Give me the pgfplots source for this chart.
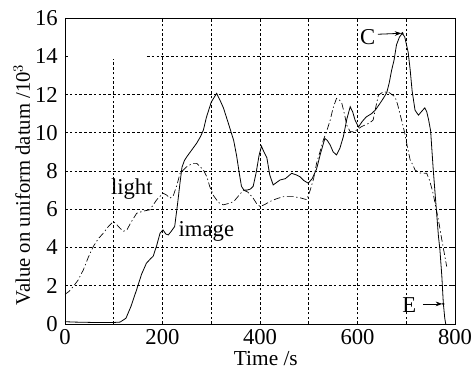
\documentclass[border=0pt]{standalone}
\usepackage{pgfplots}
\pgfplotsset{compat=1.18}
\usepackage{fontspec}
\setmainfont{Liberation Serif}
\usetikzlibrary{calc,arrows.meta}
\pgfplotstableread{
x y
0 0.12
20 0.1
60 0.08
100 0.08
113 0.1
125 0.3
135 0.9
147 1.8
157 2.6
167 3.18
175 3.4
181 3.55
188 4.1
195 4.75
201 4.92
207 4.7
212 4.66
218 4.85
225 5.1
231 6.3
236 7.4
240 8.2
245 8.55
250 8.75
260 9.1
270 9.45
278 9.8
284 10.15
290 10.8
300 11.6
311 12.06
318 11.7
325 11.3
335 10.5
346 9.6
352 8.8
358 7.8
362 7.2
367 7.0
373 7.0
380 7.05
386 7.2
392 7.9
398 8.8
403 9.3
408 9.0
414 8.7
420 7.8
427 7.27
434 7.4
441 7.53
452 7.6
465 7.88
474 7.8
482 7.7
490 7.5
499 7.36
507 7.6
516 8.1
524 8.9
533 9.7
538 9.6
544 9.36
550 9.0
557 8.84
564 9.2
571 9.8
578 10.7
585 11.36
590 11.1
595 10.66
602 10.3
610 10.6
618 10.83
629 11.0
637 11.2
646 11.53
653 11.8
660 12.1
665 12.6
670 13.27
675 13.8
680 14.6
686 15.0
692 15.2
697 15.0
704 14.2
708 13.3
712 12.2
718 11.18
725 10.92
731 11.1
738 11.3
742 11.1
746 10.66
750 10.1
755 8.2
758 7.2
762 5.9
766 4.6
769 3.9
773 2.5
776 1.1
779 0.3
781 0
}\imagedata
\pgfplotstableread{
x y
0 1.55
8 1.7
17 1.96
27 2.3
37.6 2.83
48 3.5
58 4.05
68 4.45
78.6 4.75
89 5.1
99 5.36
106 5.2
113 5.0
120 4.85
127 4.92
135 5.3
147 5.79
160 5.9
174 5.97
188 6.49
201 6.84
208 6.75
215 6.58
222 6.7
230 7.3
236 7.88
250 8.23
262 8.4
270 8.4
276 8.25
284 8.05
291 7.7
297 7.18
305 6.7
315 6.35
325 6.23
335 6.3
346 6.4
356 6.7
366 7.0
375 6.9
386 6.58
393 6.3
400 6.14
410 6.25
420 6.4
434 6.55
448 6.66
468 6.66
482 6.6
496 6.5
503 7.0
510 7.6
516 8.4
523 9.0
530 9.62
537 10.1
544 10.66
550 11.3
557 11.8
562 11.75
568 11.53
573 11.0
578 10.4
585 10.05
592 10.05
598 10.14
607 10.3
615 10.4
624 10.5
632 10.66
638 11.4
643 11.97
653 12.14
665 12.1
677 11.88
682 11.5
687 11.0
692 10.5
697 9.97
702 9.3
708 8.58
714 8.3
718 8.05
728 7.9
742 7.88
748 7.5
755 6.84
760 6.2
766 5.44
773 4.4
778 3.7
783 3.0
}\lightdata
\begin{document}
\begin{tikzpicture}
\begin{axis}[
  name=ax,
  scale only axis,
  width=292.5pt, height=229.5pt,
  xmin=0, xmax=800, ymin=0, ymax=16,
  xtick={0,200,...,800}, ytick={0,2,...,16},
  tick align=inside, major tick length=2pt,
  tick style={black, thin},
  axis line style={black, line width=0.6pt},
  /pgf/number format/assume math mode=true,
  tick label style={font=\fontsize{17}{19}\selectfont},
  xticklabel style={inner sep=0pt, yshift=-4pt},
  yticklabel style={inner sep=0pt, xshift=-5.2pt},
  xlabel={Time /s},
  ylabel={Value on uniform datum /10$^3$},
  xlabel style={font=\fontsize{16}{18}\selectfont, inner sep=0pt, at={(axis description cs:0.515,0)}, anchor=base, yshift=-30.8pt},
  ylabel style={font=\fontsize{15.5}{18}\selectfont, inner sep=0pt, at={(axis description cs:0,0.455)}, anchor=south, yshift=26pt},
  clip=false,
]
\begin{scope}[dash pattern=on 2pt off 1.6pt, line width=0.5pt, black]
\draw (axis cs:100,0) -- (axis cs:100,13.85);
\draw (axis cs:200,0) -- (axis cs:200,16);
\draw (axis cs:300,0) -- (axis cs:300,16);
\draw (axis cs:400,0) -- (axis cs:400,16);
\draw (axis cs:500,0) -- (axis cs:500,16);
\draw (axis cs:600,0) -- (axis cs:600,16);
\draw (axis cs:700,0) -- (axis cs:700,16);
\draw (axis cs:0,2) -- (axis cs:800,2);
\draw (axis cs:0,4) -- (axis cs:800,4);
\draw (axis cs:0,6) -- (axis cs:800,6);
\draw (axis cs:0,8) -- (axis cs:800,8);
\draw (axis cs:0,10) -- (axis cs:800,10);
\draw (axis cs:0,12) -- (axis cs:800,12);
\draw (axis cs:168,14) -- (axis cs:800,14);
\end{scope}
\addplot[black, line width=0.6pt, mark=none] table[x=x,y=y] {\imagedata};
\addplot[black, line width=0.5pt, mark=none, dash pattern=on 5pt off 2pt on 1pt off 2pt] table[x=x,y=y] {\lightdata};
\node[font=\fontsize{17}{19}\selectfont] at (axis cs:137,7.05) {light};
\node[font=\fontsize{17}{19}\selectfont] at (axis cs:290,4.85) {image};
\node[font=\fontsize{17}{19}\selectfont] at (axis cs:621,15.0) {C};
\draw[-{Stealth[length=5pt,width=3.5pt]}, line width=0.6pt] (axis cs:642,15.15) -- (axis cs:690,15.2);
\fill (axis cs:692,15.2) circle (1pt);
\node[font=\fontsize{17}{19}\selectfont] at (axis cs:706,1.0) {E};
\draw[-{Stealth[length=5pt,width=3.5pt]}, line width=0.6pt] (axis cs:734,1.05) -- (axis cs:774,1.05);
\fill (axis cs:776,1.05) circle (1pt);
\end{axis}
\pgfresetboundingbox
\path ($(ax.south west)+(-48.75pt,-35pt)$) rectangle ($(ax.north east)+(12.75pt,13.5pt)$);
\end{tikzpicture}
\end{document}
